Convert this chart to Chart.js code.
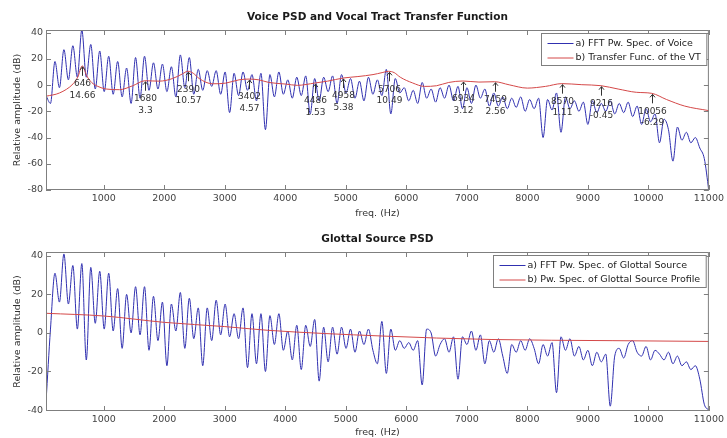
<!DOCTYPE html>
<html>
<head>
<meta charset="utf-8">
<script src="https://cdn.jsdelivr.net/npm/chart.js@4.4.1/dist/chart.umd.min.js"></script>
<style>
  body { margin: 0; background: #fff; }
  .panel { position: absolute; left: 0; width: 727px; height: 219px; }
</style>
</head>
<body>
<div class="panel" style="top:0"><canvas id="voice_chart"></canvas></div>
<div class="panel" style="top:219px"><canvas id="glottal_chart"></canvas></div>
<script>
// FFT bins: first bin at 46 Hz, one bin every 74 Hz
var binStart = 46;
var binStep = 74;

// a) FFT power spectrum of the voice (dB), one value per bin
var voiceSpec = [
  -8, -14, 18, -2, 27, 4, 30, 6, 42, 6,
  31, -3, 26, -5, 22, -7, 18, -9, 13, -14,
  21, -10, 22, -4, 17, -3, 16, -5, 14, -9,
  23, -2, 21, -7, 12, -4, 11, -1, 11, -7,
  10, -21, 9, -8, 10, -4, 8, -12, 9, -34,
  8, -9, 10, -7, 4, -10, 6, -8, 7, -22,
  5, -12, 6, -5, 7, -14, 8, -6, 5, -10,
  3, -12, 6, -7, 4, -8, 12, -22, 5, -6,
  -2, -12, -4, -14, 2, -10, -3, -13, -2, -10,
  0, -12, -1, -18, -2, -14, 0, -10, -3, -16,
  -6, -16, -9, -18, -10, -17, -9, -20, -11, -18,
  -10, -40, -11, -19, -6, -36, -9, -18, -12, -20,
  -13, -30, -12, -21, -14, -20, -12, -22, -14, -21,
  -13, -24, -16, -30, -18, -28, -22, -44, -26, -34,
  -58, -32, -42, -36, -44, -40, -48, -56, -80
];

// a) FFT power spectrum of the glottal source (dB), one value per bin
var glottalSpec = [
  -36, 2, 31, 16, 41, 15, 35, 2, 36, -14,
  34, 5, 32, 2, 31, 1, 23, -8, 20, 0,
  24, -1, 24, -9, 19, -4, 16, -17, 15, 1,
  21, -8, 18, -3, 13, -17, 13, -4, 17, -1,
  15, -2, 10, -3, 13, -18, 10, -16, 10, -20,
  9, -6, 10, -9, 1, -14, 4, -19, 4, -7,
  7, -25, 3, -15, 3, -11, 3, -8, 2, -10,
  1, -6, 2, -9, -16, 6, -21, 2, -9, -4,
  -8, -5, -9, -4, -27, 2, 0, -12, -6, -3,
  -10, -2, -24, -2, -6, 1, -9, -1, -16, -4,
  -10, -3, -12, -21, -6, -10, -4, -9, -3, -8,
  -16, -6, -12, -5, -31, -2, -9, -3, -12, -7,
  -14, -9, -17, -10, -15, -11, -38, -12, -8, -13,
  -6, -4, -10, -12, -7, -14, -9, -11, -14, -10,
  -16, -12, -17, -15, -19, -17, -24, -37, -40
];

// b) transfer function of the vocal tract
var vtFreq = [46, 270, 495, 570, 646, 720, 800, 903, 1040, 1260,
  1479, 1680, 1918, 2137, 2300, 2390, 2480, 2577, 2796, 3016,
  3235, 3402, 3563, 3728, 4000, 4200, 4486, 4700, 4958, 5200,
  5450, 5600, 5706, 5800, 5900, 6100, 6300, 6500, 6700, 6934,
  7200, 7459, 7700, 8000, 8300, 8570, 8900, 9216, 9500, 9800,
  10056, 10300, 10600, 11000];
var vtGain = [-8.5, -6, 1, 6, 14.66, 7, 2, -1, -3, -3.5,
  -0.5, 3.3, 3, 5, 8.5, 10.57, 9, 5, 1, 1.5,
  4, 4.57, 4, 2, 0.8, -0.2, 1.53, 3, 5.38, 6.5,
  8, 9.5, 10.49, 9.5, 6, 1.7, -1, -0.5, 2, 3.12,
  2.3, 2.56, 0.2, -2.3, -1, 1.11, 0.3, -0.45, -3, -5.5,
  -6.29, -11, -16, -19.5];

// formant peaks marked on the transfer function
var formantFreq = [646, 1680, 2390, 3402, 4486, 4958, 5706, 6934, 7459, 8570, 9216, 10056];
var formantGain = [14.66, 3.3, 10.57, 4.57, 1.53, 5.38, 10.49, 3.12, 2.56, 1.11, -0.45, -6.29];

// b) glottal source profile
var profileFreq = [46, 1000, 2000, 3000, 3700, 5600, 7400, 9400, 11000];
var profileGain = [10.2, 8.8, 5.5, 3.3, 1.4, -1.6, -3.4, -4, -4.4];

// axis ticks
var freqTicks = [1000, 2000, 3000, 4000, 5000, 6000, 7000, 8000, 9000, 10000, 11000];
var voiceTicks = [-80, -60, -40, -20, 0, 20, 40];
var glottalTicks = [-40, -20, 0, 20, 40];

var BLUE = '#3030b0';
var RED = '#d44848';
var AXIS = '#7f7f7f';
var FONT = '"DejaVu Sans", sans-serif';

function binPoints(values) {
  return values.map(function (v, i) { return { x: binStart + i * binStep, y: v }; });
}
function pairPoints(xs, ys) {
  return xs.map(function (x, i) { return { x: x, y: ys[i] }; });
}

// box, inward ticks, title, legend and formant marks, MATLAB style
var matlabAxes = {
  id: 'matlabAxes',
  afterDatasetsDraw: function (chart, args, opts) {
    var ctx = chart.ctx, a = chart.chartArea;
    var xs = chart.scales.x, ys = chart.scales.y;
    ctx.save();

    if (opts.marks) {
      ctx.strokeStyle = '#333';
      ctx.fillStyle = '#333';
      ctx.lineWidth = 1;
      ctx.font = '9px ' + FONT;
      ctx.textAlign = 'center';
      ctx.textBaseline = 'middle';
      formantFreq.forEach(function (f, i) {
        var px = Math.round(xs.getPixelForValue(f)) + 0.5;
        var py = ys.getPixelForValue(formantGain[i]);
        ctx.beginPath();
        ctx.moveTo(px, py + 1); ctx.lineTo(px, py + 10);
        ctx.moveTo(px - 2.5, py + 4); ctx.lineTo(px, py + 1); ctx.lineTo(px + 2.5, py + 4);
        ctx.stroke();
        ctx.fillText(String(f), px, py + 18);
        ctx.fillText(String(formantGain[i]), px, py + 29.5);
      });
    }

    ctx.strokeStyle = AXIS;
    ctx.lineWidth = 1;
    ctx.strokeRect(a.left + 0.5, a.top + 0.5, a.right - a.left - 1, a.bottom - a.top - 1);
    ctx.beginPath();
    xs.ticks.forEach(function (t) {
      var px = Math.round(xs.getPixelForValue(t.value)) + 0.5;
      ctx.moveTo(px, a.bottom); ctx.lineTo(px, a.bottom - 5);
      ctx.moveTo(px, a.top); ctx.lineTo(px, a.top + 5);
    });
    ys.ticks.forEach(function (t) {
      var py = Math.round(ys.getPixelForValue(t.value)) + 0.5;
      ctx.moveTo(a.left, py); ctx.lineTo(a.left + 5, py);
      ctx.moveTo(a.right, py); ctx.lineTo(a.right - 5, py);
    });
    ctx.stroke();

    ctx.fillStyle = '#1a1a1a';
    ctx.font = 'bold 10.5px ' + FONT;
    ctx.textAlign = 'center';
    ctx.textBaseline = 'middle';
    ctx.fillText(opts.title, (a.left + a.right) / 2, a.top - 13);

    // legend box in the upper right corner
    ctx.font = '9.5px ' + FONT;
    var tw = 0;
    opts.labels.forEach(function (s) { tw = Math.max(tw, ctx.measureText(s).width); });
    var bw = 6 + 26 + 2 + tw + 6, bh = 32;
    var bx = Math.round(a.right - 3 - bw) + 0.5, by = Math.round(a.top + 3) + 0.5;
    ctx.fillStyle = '#fff';
    ctx.fillRect(bx, by, bw, bh);
    ctx.strokeStyle = AXIS;
    ctx.strokeRect(bx, by, bw, bh);
    ctx.textAlign = 'left';
    opts.labels.forEach(function (s, k) {
      var ly = by + 10 + k * 14.5;
      ctx.strokeStyle = k === 0 ? BLUE : RED;
      ctx.beginPath();
      ctx.moveTo(bx + 6, ly); ctx.lineTo(bx + 32, ly);
      ctx.stroke();
      ctx.fillStyle = '#222';
      ctx.fillText(s, bx + 34, ly);
    });
    ctx.restore();
  }
};

function plainLabel(v) { return String(v); }

function makeChart(id, spec, redX, redY, yMin, yMax, yTicks, padTop, xHeight, plug) {
  return new Chart(document.getElementById(id), {
    type: 'line',
    data: {
      datasets: [
        {
          data: binPoints(spec),
          borderColor: BLUE,
          borderWidth: 1,
          pointRadius: 0,
          cubicInterpolationMode: 'monotone',
          fill: false,
          order: 1
        },
        {
          data: pairPoints(redX, redY),
          borderColor: RED,
          borderWidth: 1,
          pointRadius: 0,
          cubicInterpolationMode: 'monotone',
          fill: false,
          order: 0
        }
      ]
    },
    options: {
      responsive: true,
      maintainAspectRatio: false,
      animation: false,
      devicePixelRatio: 1,
      layout: { padding: { top: padTop, right: 15, bottom: 0, left: 0 } },
      plugins: {
        legend: { display: false },
        tooltip: { enabled: false },
        matlabAxes: plug
      },
      scales: {
        x: {
          type: 'linear',
          min: 46,
          max: 11000,
          afterBuildTicks: function (s) { s.ticks = freqTicks.map(function (v) { return { value: v }; }); },
          afterFit: function (s) { s.height = xHeight; },
          grid: { display: false, drawTicks: false },
          border: { display: false },
          ticks: { color: '#444', font: { family: FONT, size: 9.5 }, padding: 3, maxRotation: 0, autoSkip: false, callback: plainLabel },
          title: { display: true, text: 'freq. (Hz)', color: '#333', font: { family: FONT, size: 9.5 }, padding: { top: 0, bottom: 0 } }
        },
        y: {
          min: yMin,
          max: yMax,
          afterBuildTicks: function (s) { s.ticks = yTicks.map(function (v) { return { value: v }; }); },
          afterFit: function (s) { s.width = 46; },
          grid: { display: false, drawTicks: false },
          border: { display: false },
          ticks: { color: '#444', font: { family: FONT, size: 9.5 }, padding: 3, callback: plainLabel },
          title: { display: true, text: 'Relative amplitude (dB)', color: '#333', font: { family: FONT, size: 9.5 }, padding: { top: 12, bottom: 0 } }
        }
      }
    },
    plugins: [matlabAxes]
  });
}

makeChart('voice_chart', voiceSpec, vtFreq, vtGain, -80, 42, voiceTicks, 30, 29, {
  title: 'Voice PSD and Vocal Tract Transfer Function',
  labels: ['a) FFT Pw. Spec. of Voice', 'b) Transfer Func. of the VT'],
  marks: true
});

makeChart('glottal_chart', glottalSpec, profileFreq, profileGain, -40.5, 42, glottalTicks, 33, 27, {
  title: 'Glottal Source PSD',
  labels: ['a) FFT Pw. Spec. of Glottal Source', 'b) Pw. Spec. of Glottal Source Profile'],
  marks: false
});
</script>
</body>
</html>
